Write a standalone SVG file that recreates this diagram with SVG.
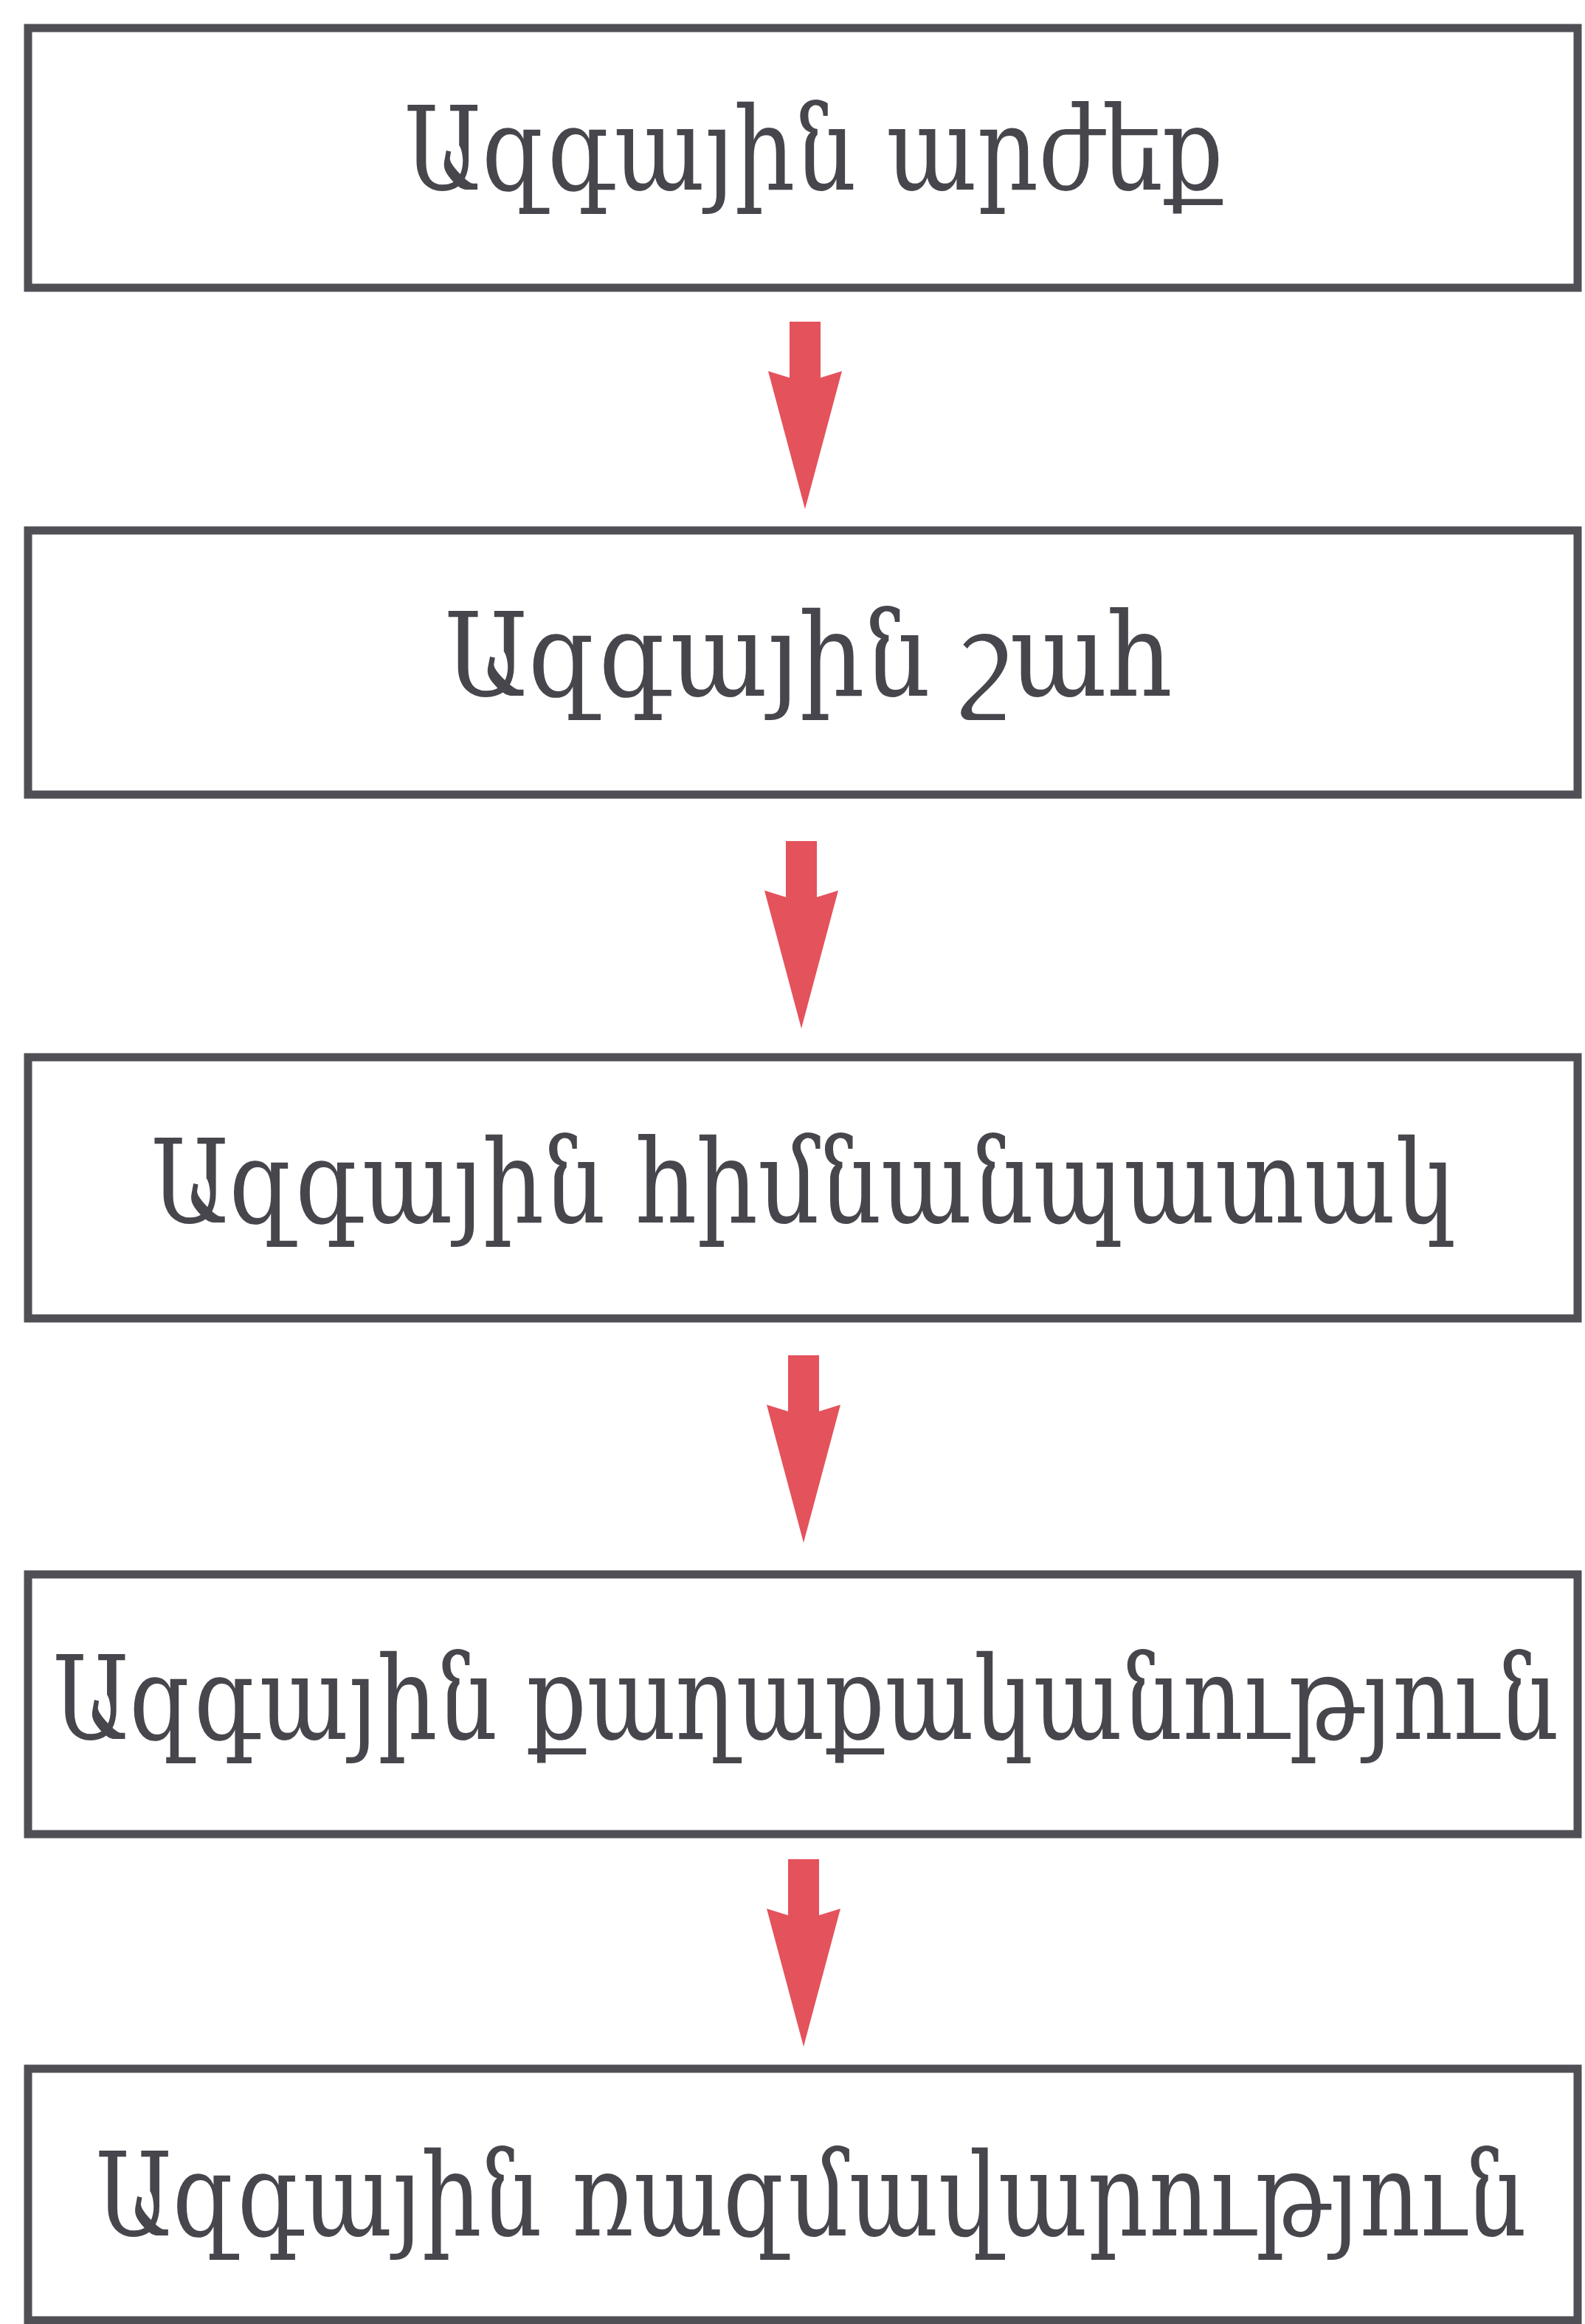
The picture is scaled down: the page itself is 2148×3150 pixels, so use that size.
<svg xmlns="http://www.w3.org/2000/svg" width="2148" height="3150" viewBox="0 0 2148 3150">
<defs>
<style>
.box{fill:#ffffff;stroke:#4f4f55;stroke-width:11}
.lbl{font-family:"DejaVu Serif","Noto Serif",serif;font-stretch:condensed;font-size:158px;fill:#46464c;text-anchor:middle}
.sm{font-size:140px}
.arr{fill:#e4525c}
</style>
<path id="arrowShape" d="M-21,0 L21,0 L21,76 L50,67 L0,254 L-50,67 L-21,76 Z"/>
</defs>
<rect width="2148" height="3150" fill="#ffffff"/>
<g id="n1">
<rect class="box" x="38" y="38" width="2100" height="352"/>
<text class="lbl" x="1103" y="257" textLength="1110" lengthAdjust="spacingAndGlyphs">Ազգային արժեք</text>
</g>
<g id="n2">
<rect class="box" x="38" y="719" width="2100" height="358"/>
<text class="lbl" x="1096" y="943" textLength="986" lengthAdjust="spacingAndGlyphs">Ազգային շահ</text>
</g>
<g id="n3">
<rect class="box" x="38" y="1433" width="2100" height="354"/>
<text class="lbl" x="1089" y="1657" textLength="1768" lengthAdjust="spacingAndGlyphs">Ազգային հիմնանպատակ</text>
</g>
<g id="n4">
<rect class="box" x="38" y="2134" width="2100" height="352"/>
<text class="lbl sm" x="0" y="0" transform="translate(1092,2357) scale(1,1.13)" textLength="2040" lengthAdjust="spacingAndGlyphs">Ազգային քաղաքականություն</text>
</g>
<g id="n5">
<rect class="box" x="38" y="2804" width="2100" height="341"/>
<text class="lbl sm" x="0" y="0" transform="translate(1099,3030) scale(1,1.13)" textLength="1938" lengthAdjust="spacingAndGlyphs">Ազգային ռազմավարություն</text>
</g>
<g id="connectors">
<use href="#arrowShape" class="arr" transform="translate(1091,436)"/>
<use href="#arrowShape" class="arr" transform="translate(1086,1140)"/>
<use href="#arrowShape" class="arr" transform="translate(1089,1837)"/>
<use href="#arrowShape" class="arr" transform="translate(1089,2520)"/>
</g>
</svg>
